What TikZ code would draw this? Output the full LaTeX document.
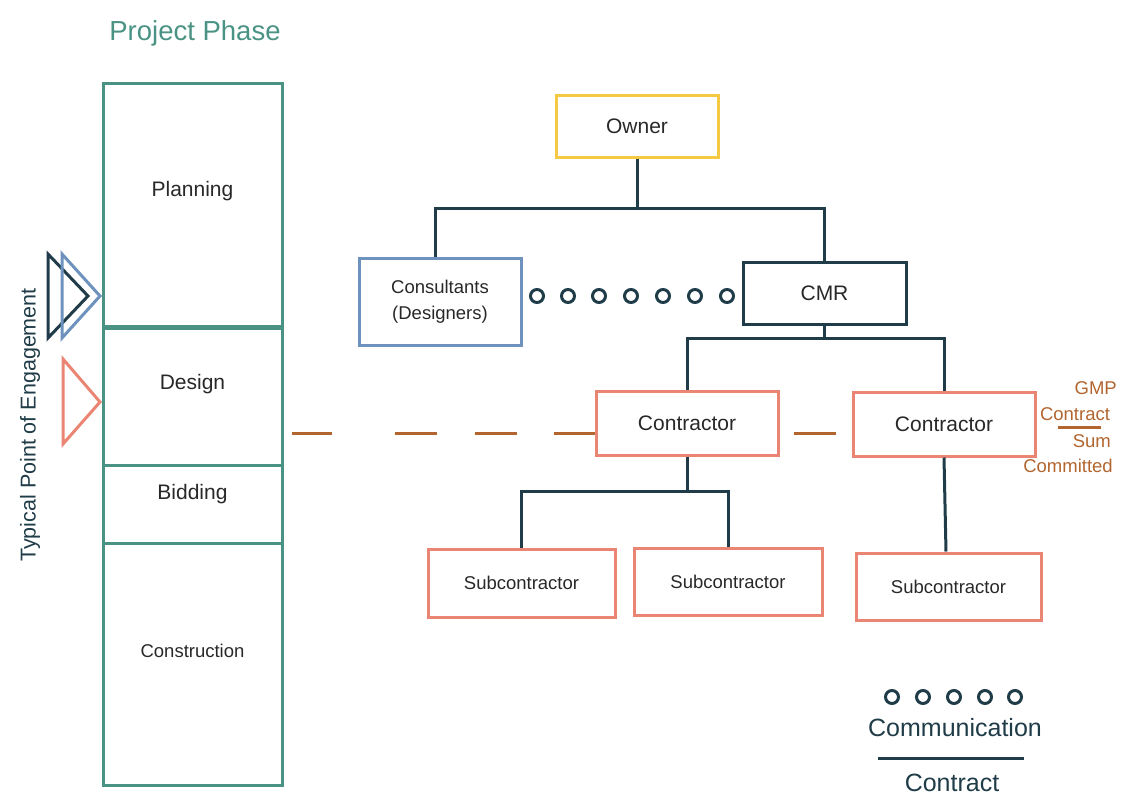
\documentclass[tikz,border=0pt]{standalone}
\usepackage{fontspec}
\setmainfont{Liberation Sans}
\usetikzlibrary{positioning}
\definecolor{phaseteal}{RGB}{74,147,132}
\definecolor{linenavy}{RGB}{31,60,72}
\definecolor{owneryellow}{RGB}{246,201,69}
\definecolor{consblue}{RGB}{110,146,190}
\definecolor{contrsalmon}{RGB}{235,133,115}
\definecolor{gmpbrown}{RGB}{178,101,46}
\definecolor{txtgray}{RGB}{40,40,40}

\begin{document}
\begin{tikzpicture}[x=1pt,y=-1pt,
  every node/.style={inner sep=0pt, text=txtgray},
  box/.style={draw, line width=3pt, minimum width=#1},
  box/.default=162,
  phase/.style={draw=phaseteal, line width=3pt, minimum width=179, font=\fontsize{21}{24}\selectfont},
  big/.style={font=\fontsize{21}{24}\selectfont},
  small/.style={font=\fontsize{18.5}{24}\selectfont},
  gmp/.style={text=gmpbrown, font=\fontsize{18.5}{20}\selectfont},
  link/.style={draw=linenavy, line width=3pt},
]
\useasboundingbox (0,0) rectangle (1128,807);
% phases
\node[text=phaseteal, font=\fontsize{27.5}{30}\selectfont] (title) at (195,33) {Project Phase};
\node[phase, minimum height=243, label={[big,yshift=13]center:Planning}] (plan) at (192.5,204.5) {};
\node[phase, minimum height=137, label={[big,yshift=12]center:Design}] (design) at (192.5,396.5) {};
\node[phase, minimum height=78, label={[big,yshift=10]center:Bidding}] (bid) at (192.5,504) {};
\node[phase, minimum height=242, label={[small,yshift=13]center:Construction}] (constr) at (192.5,664) {};
% engagement markers
\draw[linenavy, line width=3pt, line join=miter] (48,254) -- (88,296) -- (48,338) -- cycle;
\draw[consblue, line width=3pt, line join=miter] (62,254) -- (100,296) -- (62,338) -- cycle;
\draw[contrsalmon, line width=3pt, line join=miter] (63,359) -- (100,402) -- (63,444) -- cycle;
\node[rotate=90, text=linenavy, font=\fontsize{21.5}{24}\selectfont] (engage) at (30,425) {Typical Point of Engagement};
% organisation
\node[box, draw=owneryellow, minimum height=62, big] (owner) at (637,126) {Owner};
\node[box, draw=consblue, minimum height=87, small, align=center] (cons) at (440,301.5) {Consultants\\[2pt](Designers)};
\node[box=163, draw=linenavy, minimum height=62, big] (cmr) at (824.5,293) {CMR};
\node[box=182, draw=contrsalmon, minimum height=64, big] (con1) at (687,423) {Contractor};
\node[box=182, draw=contrsalmon, minimum height=64, big] (con2) at (944,424) {Contractor};
\node[box=187, draw=contrsalmon, minimum height=68, small] (sub1) at (521.5,583) {Subcontractor};
\node[box=188, draw=contrsalmon, minimum height=67, small] (sub2) at (728,581.5) {Subcontractor};
\node[box=185, draw=contrsalmon, minimum height=67, small] (sub3) at (948.5,586.5) {Subcontractor};
% contracts
\coordinate (bus1) at (637,208);
\coordinate (bus2) at (824.5,338);
\coordinate (bus3) at (687,491);
\draw[link] (owner.south) -- (bus1);
\draw[link] (cons.north -| 435,0) |- (bus1) -| (cmr.north);
\draw[link] (cmr.south) -- (bus2);
\draw[link] (con1.north) |- (bus2) -| (con2.north);
\draw[link] (con1.south) -- (bus3);
\draw[link] (sub1.north) |- (bus3) -| (sub2.north);
\draw[link] (con2.south) -- (sub3.north -| 946,0);
% communication
\foreach \x in {537,568,599,631,663,695,727}
  \draw[linenavy, line width=3pt] (\x,296) circle (6.5);
% GMP
\coordinate (gmp1) at (design.east |- 0,433);
\coordinate (gmp2) at (con1.west |- 0,433);
\coordinate (gmp3) at (con1.east |- 0,433);
\coordinate (gmp4) at (con2.west |- 0,433);
\draw[gmpbrown, line width=3pt, dash pattern=on 40pt off 63pt on 42pt off 38pt on 42pt off 37pt on 60pt, shorten <=8] (gmp1) -- (gmp2);
\draw[gmpbrown, line width=3pt, dash pattern=on 42pt off 40pt, shorten <=14] (gmp3) -- (gmp4);
\node[gmp, anchor=east] (gmptop) at (1117,388) {GMP};
\node[gmp] (gmpcontract) at (1075,414) {Contract};
\coordinate (gmpl) at (1058,427);
\coordinate (gmpr) at (1101,427);
\draw[gmpbrown, line width=3pt] (gmpl) -- (gmpr);
\node[gmp, anchor=east] (gmpsum) at (1111,441) {Sum};
\node[gmp] (gmpcomm) at (1068,466) {Committed};
% legend
\foreach \x in {892,923,954,985,1015}
  \draw[linenavy, line width=3pt] (\x,697) circle (6.5);
\node[text=linenavy, font=\fontsize{25}{28}\selectfont] (leg1) at (955,728) {Communication};
\coordinate (legl) at (878,758);
\coordinate (legr) at (1024,758);
\draw[link] (legl) -- (legr);
\node[text=linenavy, font=\fontsize{25}{28}\selectfont] (leg2) at (952,783) {Contract};
\end{tikzpicture}
\end{document}
